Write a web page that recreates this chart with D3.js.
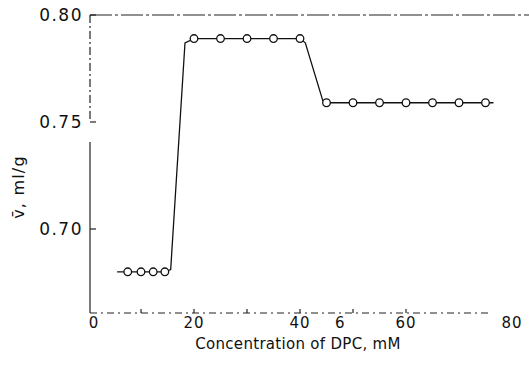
<!DOCTYPE html>
<html>
<head>
<meta charset="utf-8">
<script src="https://cdn.jsdelivr.net/npm/d3@7"></script>
<style>
  body { margin: 0; background: #fff; }
  svg text { font-family: 'DejaVu Sans', Verdana, sans-serif; fill: #111; }
</style>
</head>
<body>
<div id="chart"></div>
<script>
const width = 529,
	height = 366

// measured points (open circles)
const conc = [7.5, 10, 12.3, 14.5, 20, 25, 30, 35, 40, 45, 50, 55, 60, 65, 70, 75]
const vbar = [0.68, 0.68, 0.68, 0.68, 0.789, 0.789, 0.789, 0.789, 0.789, 0.759, 0.759, 0.759, 0.759, 0.759, 0.759, 0.759]

// hand-drawn line through the points (with its corners)
const lineConc = [5.5, 7.5, 10, 12.3, 14.5, 15.6, 18.3, 20, 25, 30, 35, 40, 41, 44.3, 45, 50, 55, 60, 65, 70, 75, 76.5]
const lineVbar = [0.68, 0.68, 0.68, 0.68, 0.68, 0.681, 0.787, 0.789, 0.789, 0.789, 0.789, 0.789, 0.787, 0.760, 0.759, 0.759, 0.759, 0.759, 0.759, 0.759, 0.759, 0.759]

const xTicks = [0, 20, 40, 60, 80]
const xMinor = [10, 20, 30, 40, 50, 60]
const yTicks = [0.70, 0.75, 0.80]
const strayLabel = { x: 47.5, text: '6' }

const svg = d3.select('#chart').append('svg').attr('width', width).attr('height', height)

const x = d3.scaleLinear().domain([0, 80]).range([88, 512])
const y = d3.scaleLinear().domain([0.70, 0.80]).range([229, 15])
const axisY = 313
const axisX = 90

// frame: top border (dash-dot as in the scan), left axis, bottom axis
svg.append('line')
	.attr('x1', axisX).attr('x2', width)
	.attr('y1', y(0.80)).attr('y2', y(0.80))
	.attr('stroke', '#222').attr('stroke-width', 1.2)
	.attr('stroke-dasharray', '22,3,3,3')

svg.append('line')
	.attr('x1', axisX).attr('x2', axisX)
	.attr('y1', y(0.80)).attr('y2', y(0.75))
	.attr('stroke', '#222').attr('stroke-width', 1.2)
	.attr('stroke-dasharray', '8,3,2,3')
svg.append('line')
	.attr('x1', axisX).attr('x2', axisX)
	.attr('y1', y(0.75) + 20).attr('y2', axisY)
	.attr('stroke', '#222').attr('stroke-width', 1.2)

svg.append('line')
	.attr('x1', axisX).attr('x2', 490)
	.attr('y1', axisY).attr('y2', axisY)
	.attr('stroke', '#222').attr('stroke-width', 1.2)
	.attr('stroke-dasharray', '7,4,2,4')

// y ticks
svg.selectAll('.ytick')
	.data(yTicks)
	.enter()
	.append('line')
	.attr('x1', axisX).attr('x2', axisX + 6)
	.attr('y1', d => y(d)).attr('y2', d => y(d))
	.attr('stroke', '#222').attr('stroke-width', 1.2)

svg.selectAll('.ylab')
	.data(yTicks)
	.enter()
	.append('text')
	.attr('x', axisX - 7)
	.attr('y', d => y(d) + 6)
	.attr('text-anchor', 'end')
	.style('font-size', '17px')
	.style('letter-spacing', '1.5px')
	.text(d => d3.format('.2f')(d))

// x ticks
svg.selectAll('.xtick')
	.data(xMinor)
	.enter()
	.append('line')
	.attr('x1', d => x(d)).attr('x2', d => x(d))
	.attr('y1', axisY).attr('y2', axisY - 4)
	.attr('stroke', '#222').attr('stroke-width', 1.2)

svg.selectAll('.xlab')
	.data(xTicks)
	.enter()
	.append('text')
	.attr('x', d => x(d) + (d === 0 ? 6 : 0))
	.attr('y', 328)
	.attr('text-anchor', 'middle')
	.style('font-size', '15px')
	.style('letter-spacing', '1px')
	.text(d => d)

svg.append('text')
	.attr('x', x(strayLabel.x))
	.attr('y', 328)
	.attr('text-anchor', 'middle')
	.style('font-size', '15px')
	.text(strayLabel.text)

// axis titles
svg.append('text')
	.attr('x', 298)
	.attr('y', 349)
	.attr('text-anchor', 'middle')
	.style('font-size', '15px')
	.style('letter-spacing', '0.3px')
	.text('Concentration of DPC, mM')

svg.append('text')
	.attr('transform', 'translate(24,187) rotate(-90)')
	.attr('text-anchor', 'middle')
	.style('font-size', '16px')
	.style('letter-spacing', '1.2px')
	.text('v\u0304, ml/g')

// the line
const pts = lineConc.map((c, i) => [c, lineVbar[i]])
svg.append('path')
	.datum(pts)
	.attr('fill', 'none')
	.attr('stroke', '#111')
	.attr('stroke-width', 1.3)
	.attr('d', d3.line().x(d => x(d[0])).y(d => y(d[1])))

// open circles
svg.selectAll('.pt')
	.data(conc.map((c, i) => [c, vbar[i]]))
	.enter()
	.append('circle')
	.attr('cx', d => x(d[0]))
	.attr('cy', d => y(d[1]))
	.attr('r', 3.8)
	.attr('fill', '#fff')
	.attr('stroke', '#111')
	.attr('stroke-width', 1.3)
</script>
</body>
</html>
